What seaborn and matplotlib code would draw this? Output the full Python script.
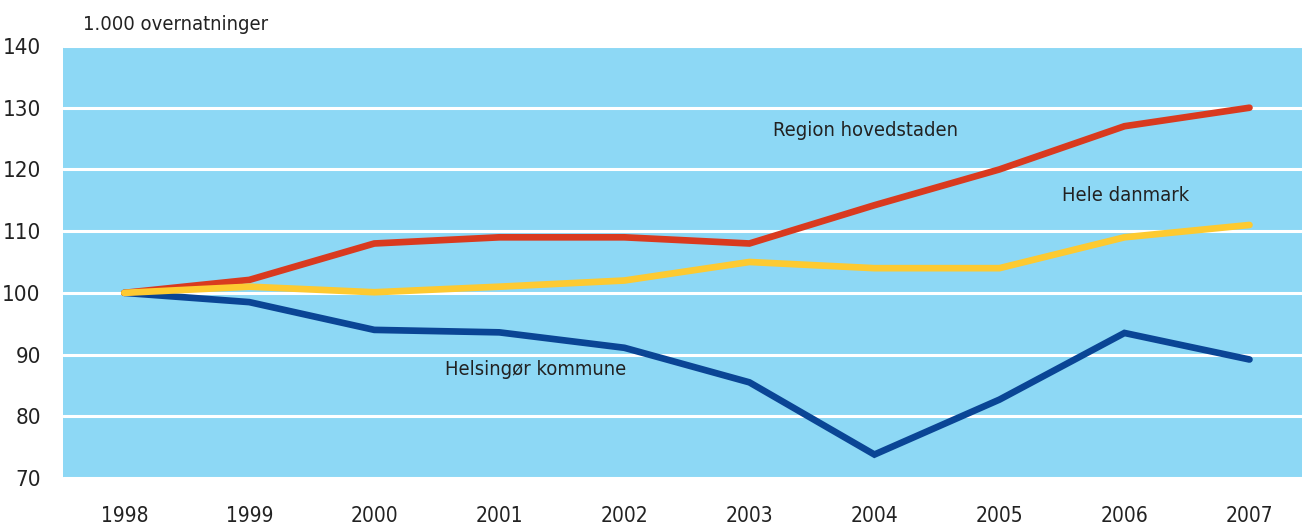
import pandas as pd
import matplotlib
matplotlib.use("Agg")
import matplotlib.pyplot as plt
import seaborn as sns
from matplotlib import font_manager

years = [1998, 1999, 2000, 2001, 2002, 2003, 2004, 2005, 2006, 2007]
region_hovedstaden = [100, 102.1, 108.0, 109.0, 109.0, 108.0, 114.2, 120.0, 127.0, 130.0]
hele_danmark = [100, 101.0, 100.1, 101.0, 102.0, 105.0, 104.0, 104.0, 109.0, 111.0]
helsingor_kommune = [100, 98.5, 94.0, 93.6, 91.1, 85.5, 73.8, 82.7, 93.5, 89.2]

series_names = ["Region hovedstaden", "Hele danmark", "Helsingør kommune"]
y_ticks = [70, 80, 90, 100, 110, 120, 130, 140]
y_title = "1.000 overnatninger"

sns.set_style("white")

# narrow look: use condensed DejaVu if nothing narrower is around
names = {f.name for f in font_manager.fontManager.ttflist}
font = "Liberation Sans Narrow" if "Liberation Sans Narrow" in names else "DejaVu Sans"
plt.rcParams["font.family"] = [font, "DejaVu Sans"]
plt.rcParams["font.stretch"] = "condensed"

df = pd.DataFrame({
    "year": years * 3,
    "value": region_hovedstaden + hele_danmark + helsingor_kommune,
    "series": [series_names[0]] * 10 + [series_names[1]] * 10 + [series_names[2]] * 10,
})

colors = {
    "Region hovedstaden": "#d93a1f",
    "Hele danmark": "#fdca31",
    "Helsingør kommune": "#0a4595",
}

fig = plt.figure(figsize=(13.02, 5.27), dpi=100)
ax = fig.add_axes([63 / 1302, 49 / 527, (1302 - 63) / 1302, 432 / 527])
ax.set_facecolor("#8dd8f5")

# blue first, then red, yellow ends up on top at the start
order = ["Helsingør kommune", "Region hovedstaden", "Hele danmark"]
for name in order:
    sub = df[df["series"] == name]
    sns.lineplot(data=sub, x="year", y="value", color=colors[name], linewidth=4.8,
                 ax=ax, solid_capstyle="round", solid_joinstyle="miter", zorder=3)

ax.set_xlim(1997.51, 2007.42)
ax.set_ylim(70, 140)
ax.set_yticks(y_ticks)
ax.set_xticks(years)
ax.set_xticklabels([str(y) for y in years])
ax.grid(axis="y", color="white", linewidth=2.2, zorder=1)
ax.grid(axis="x", visible=False)
ax.set_axisbelow(True)
for s in ax.spines.values():
    s.set_visible(False)
ax.tick_params(axis="y", length=0, pad=16, labelsize=16, colors="#222222")
ax.tick_params(axis="x", length=0, pad=20, labelsize=15, colors="#222222")
ax.set_xlabel("")
ax.set_ylabel("")

fig.text(83 / 1302, 1 - 25 / 527, y_title, fontsize=14.5, color="#222222", va="center", ha="left")

ax.text(2003.93, 126.3, "Region hovedstaden", fontsize=14.5, color="#222222", ha="center", va="center")
ax.text(2006.01, 115.8, "Hele danmark", fontsize=14.5, color="#222222", ha="center", va="center")
ax.text(2001.29, 87.6, "Helsingør kommune", fontsize=14.5, color="#222222", ha="center", va="center")

fig.savefig("out.png", dpi=100)
